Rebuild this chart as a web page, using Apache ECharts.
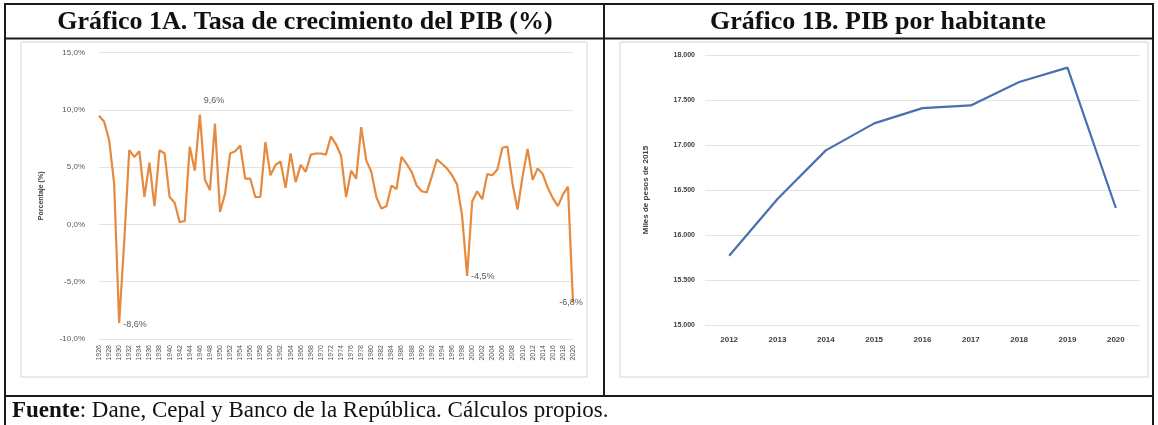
<!DOCTYPE html>
<html>
<head>
<meta charset="utf-8">
<script src="https://cdn.jsdelivr.net/npm/echarts@6/dist/echarts.min.js"></script>
<style>
html,body{margin:0;padding:0;background:#fff;}
#c{width:1158px;height:425px;}
</style>
</head>
<body>
<div id="c"></div>
<script>
// ---- Data: Gráfico 1A ----
const yearsA = ["1926","1927","1928","1929","1930","1931","1932","1933","1934","1935",
"1936","1937","1938","1939","1940","1941","1942","1943","1944","1945",
"1946","1947","1948","1949","1950","1951","1952","1953","1954","1955",
"1956","1957","1958","1959","1960","1961","1962","1963","1964","1965",
"1966","1967","1968","1969","1970","1971","1972","1973","1974","1975",
"1976","1977","1978","1979","1980","1981","1982","1983","1984","1985",
"1986","1987","1988","1989","1990","1991","1992","1993","1994","1995",
"1996","1997","1998","1999","2000","2001","2002","2003","2004","2005",
"2006","2007","2008","2009","2010","2011","2012","2013","2014","2015",
"2016","2017","2018","2019","2020"];
const growthPct = [9.5,9.0,7.4,3.6,-8.6,-1.5,6.5,5.9,6.4,2.4,
5.4,1.6,6.5,6.2,2.4,1.9,0.2,0.3,6.8,4.7,
9.6,3.9,3.0,8.8,1.1,2.7,6.2,6.4,6.9,4.0,
4.0,2.4,2.4,7.2,4.3,5.2,5.5,3.2,6.2,3.7,
5.2,4.6,6.1,6.2,6.2,6.1,7.7,7.0,6.0,2.4,
4.7,4.0,8.5,5.6,4.6,2.4,1.4,1.6,3.4,3.1,
5.9,5.3,4.6,3.4,2.9,2.8,4.2,5.7,5.3,4.9,
4.3,3.5,0.8,-4.5,2.0,2.9,2.2,4.4,4.3,4.8,
6.7,6.8,3.6,1.3,4.2,6.6,3.9,4.9,4.4,3.2,
2.3,1.6,2.6,3.3,-6.8];
const annotatedYears = ["1930","1946","1999","2020"];
const yTicksA = [-10,-5,0,5,10,15];

// ---- Data: Gráfico 1B ----
const yearsB = ["2012","2013","2014","2015","2016","2017","2018","2019","2020"];
const pibHab = [15770,16400,16940,17240,17410,17440,17700,17860,16300];
const yTicksB = [15000,15500,16000,16500,17000,17500,18000];

// ---- Texts ----
const titleA = "Gráfico 1A. Tasa de crecimiento del PIB (%)";
const titleB = "Gráfico 1B. PIB por habitante";
const yNameA = "Porcentaje (%)";
const yNameB = "Miles de pesos de 2015";
const sourceLabel = "Fuente";
const sourceText = ": Dane, Cepal y Banco de la República. Cálculos propios.";

function pctFmt(v){ return (Number(v).toFixed(1)).replace('.', ',') + '%'; }
function thFmt(v){ return String(v).replace(/\B(?=(\d{3})+(?!\d))/g, '.'); }

// label placement (style only) for each annotated point
const annotLabelStyle = [
  {position: 'right', distance: 4, offset: [0, 2]},
  {position: 'right', distance: 4, offset: [0, -14]},
  {position: 'right', distance: 4, offset: [0, 1]},
  {position: 'inside', offset: [-2, 0]}
];

const markData = annotatedYears.map(function(y, k){
  const i = yearsA.indexOf(y);
  return {coord: [y, growthPct[i]], value: growthPct[i], label: annotLabelStyle[k]};
});

const chart = echarts.init(document.getElementById('c'), null, {renderer: 'canvas'});

const serif = '"Liberation Serif", "DejaVu Serif", serif';
const lineC = '#1a1a1a';

chart.setOption({
  backgroundColor: '#ffffff',
  animation: false,
  grid: [
    {left: 99, top: 52.7, width: 474, height: 286.3, containLabel: false},
    {left: 705, top: 55, width: 435, height: 270, containLabel: false}
  ],
  xAxis: [
    {gridIndex: 0, type: 'category', data: yearsA, boundaryGap: false,
     axisLine: {show: false}, axisTick: {show: false},
     axisLabel: {interval: 1, rotate: 90, fontSize: 7, color: '#555555', margin: 6,
       fontFamily: 'Liberation Sans'}},
    {gridIndex: 1, type: 'category', data: yearsB, boundaryGap: true,
     axisLine: {show: false}, axisTick: {show: false},
     axisLabel: {fontSize: 8, fontWeight: 'bold', color: '#404040', margin: 11,
       fontFamily: 'Liberation Sans'}}
  ],
  yAxis: [
    {gridIndex: 0, type: 'value', min: yTicksA[0], max: yTicksA[yTicksA.length-1], interval: 5,
     name: yNameA, nameLocation: 'middle', nameRotate: 90, nameGap: 54,
     nameTextStyle: {fontSize: 7, fontWeight: 'bold', color: '#404040', fontFamily: 'Liberation Sans'},
     axisLine: {show: false}, axisTick: {show: false},
     splitLine: {lineStyle: {color: '#e3e3e3', width: 1}},
     axisLabel: {fontSize: 8, color: '#595959', margin: 14, formatter: pctFmt,
       fontFamily: 'Liberation Sans'}},
    {gridIndex: 1, type: 'value', min: yTicksB[0], max: yTicksB[yTicksB.length-1], interval: 500,
     name: yNameB, nameLocation: 'middle', nameRotate: 90, nameGap: 55,
     nameTextStyle: {fontSize: 8, fontWeight: 'bold', color: '#404040', fontFamily: 'Liberation Sans'},
     axisLine: {show: false}, axisTick: {show: false},
     splitLine: {lineStyle: {color: '#e3e3e3', width: 1}},
     axisLabel: {fontSize: 7, fontWeight: 'bold', color: '#404040', margin: 10, formatter: thFmt,
       fontFamily: 'Liberation Sans'}}
  ],
  series: [
    {type: 'line', xAxisIndex: 0, yAxisIndex: 0, data: growthPct, symbol: 'none',
     lineStyle: {color: '#E58A3E', width: 2.2}, itemStyle: {color: '#E58A3E'},
     markPoint: {symbol: 'circle', symbolSize: 0, silent: true, data: markData,
       label: {show: true, color: '#595959', fontSize: 9, fontFamily: 'Liberation Sans',
         formatter: function(p){ return pctFmt(p.value); }}}},
    {type: 'line', xAxisIndex: 1, yAxisIndex: 1, data: pibHab, symbol: 'none',
     lineStyle: {color: '#4A6FB0', width: 2.2}, itemStyle: {color: '#4A6FB0'}}
  ],
  graphic: [
    // chart frames
    {type: 'rect', z: -1, shape: {x: 21, y: 42, width: 566, height: 335},
     style: {fill: 'none', stroke: '#d4d4d4', lineWidth: 1}},
    {type: 'rect', z: -1, shape: {x: 620, y: 42, width: 528, height: 335},
     style: {fill: 'none', stroke: '#d4d4d4', lineWidth: 1}},
    // table borders
    {type: 'line', shape: {x1: 4, y1: 4, x2: 1154, y2: 4}, style: {stroke: lineC, lineWidth: 2}},
    {type: 'line', shape: {x1: 4, y1: 38.5, x2: 1154, y2: 38.5}, style: {stroke: lineC, lineWidth: 2}},
    {type: 'line', shape: {x1: 4, y1: 396, x2: 1154, y2: 396}, style: {stroke: lineC, lineWidth: 2}},
    {type: 'line', shape: {x1: 5, y1: 4, x2: 5, y2: 425}, style: {stroke: lineC, lineWidth: 2}},
    {type: 'line', shape: {x1: 1153, y1: 4, x2: 1153, y2: 425}, style: {stroke: lineC, lineWidth: 2}},
    {type: 'line', shape: {x1: 604, y1: 4, x2: 604, y2: 396}, style: {stroke: lineC, lineWidth: 2}},
    // titles
    {type: 'text', x: 305, y: 22, style: {text: titleA, font: 'bold 26px ' + serif,
      fill: '#111', textAlign: 'center', textVerticalAlign: 'middle'}},
    {type: 'text', x: 878, y: 22, style: {text: titleB, font: 'bold 26px ' + serif,
      fill: '#111', textAlign: 'center', textVerticalAlign: 'middle'}},
    // source
    {type: 'text', x: 12, y: 411, style: {
      text: '{b|' + sourceLabel + '}{n|' + sourceText + '}',
      textVerticalAlign: 'middle',
      rich: {b: {font: 'bold 23px ' + serif, fill: '#111'},
             n: {font: '23px ' + serif, fill: '#111'}}}}
  ]
});
</script>
</body>
</html>
